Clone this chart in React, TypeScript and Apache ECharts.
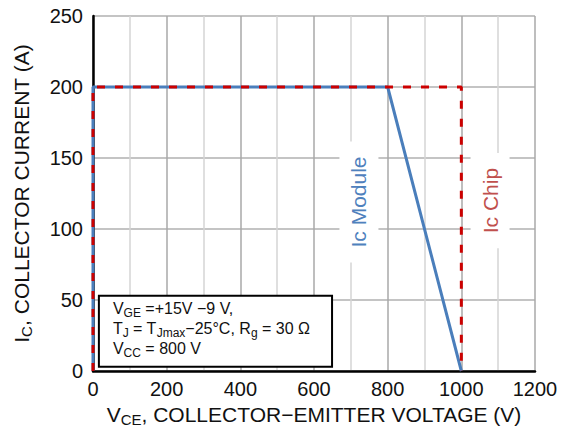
import React, { useEffect, useRef } from "react";
import * as echarts from "echarts";

const xTicksMax = 1200;
const yTicksMax = 250;
const moduleX = [0, 0, 800, 1000];
const moduleY = [0, 200, 200, 0];
const chipX = [0, 0, 1000, 1000];
const chipY = [0, 200, 200, 0];
const moduleLabel = "Ic Module";
const chipLabel = "Ic Chip";
const moduleLabelPos = [722, 119];
const chipLabelPos = [1078, 120];
const noteBoxData = [[16, 53], [649, 3]];
const noteLines = [
  "{n|V}{s|GE}{n| =+15V \u22129 V,}",
  "{n|T}{s|J}{n| = T}{s|Jmax}{n|\u221225\u00B0C, R}{s|g}{n| = 30 \u03A9}",
  "{n|V}{s|CC}{n| = 800 V}",
];

const FONT = "'Liberation Sans', Arial, Helvetica, sans-serif";
const BLUE = "#4a7ebb";
const RED = "#cc0000";

export default function App() {
  const ref = useRef<HTMLDivElement>(null);
  useEffect(() => {
    if (!ref.current) return;
    const chart = echarts.init(ref.current, null, { renderer: "svg" });
    const nameRich = {
      n: { fontSize: 21, fontFamily: FONT, color: "#111", lineHeight: 26 },
      s: { fontSize: 15, fontFamily: FONT, color: "#111", lineHeight: 12, verticalAlign: "bottom" },
    };
    chart.setOption({
      animation: false,
      backgroundColor: "#fff",
      grid: { left: 93, right: 35, top: 16, bottom: 62, containLabel: false },
      xAxis: {
        type: "value",
        min: 0,
        max: xTicksMax,
        interval: 200,
        name: "{n|V}{s|CE}{n|, COLLECTOR\u2212EMITTER VOLTAGE (V)}",
        nameLocation: "middle",
        nameGap: 29,
        nameTextStyle: { rich: nameRich },
        axisLine: { show: true, onZero: false, lineStyle: { color: "#000", width: 2.5 } },
        axisTick: { show: false },
        axisLabel: { color: "#111", fontSize: 20, fontFamily: FONT, margin: 8, formatter: (v: number) => String(v) },
        splitLine: { show: true, lineStyle: { color: "#a8a8a8", width: 1.5 } },
        minorTick: { show: false, splitNumber: 2 },
        minorSplitLine: { show: true, lineStyle: { color: "#d4d4d4", width: 1.5 } },
      },
      yAxis: {
        type: "value",
        min: 0,
        max: yTicksMax,
        interval: 50,
        name: "{n|I}{s|C}{n|, COLLECTOR CURRENT (A)}",
        nameLocation: "middle",
        nameGap: 59,
        nameRotate: 90,
        nameTextStyle: { rich: nameRich },
        axisLine: { show: true, onZero: false, lineStyle: { color: "#000", width: 2.5 } },
        axisTick: { show: false },
        axisLabel: { color: "#111", fontSize: 20, fontFamily: FONT, margin: 10, formatter: (v: number) => String(v) },
        splitLine: { show: true, lineStyle: { color: "#b0b0b0", width: 1.5 } },
      },
      series: [
        {
          type: "line",
          name: "Ic Module",
          data: moduleX.map((x, i) => [x, moduleY[i]]),
          showSymbol: false,
          clip: false,
          lineStyle: { color: BLUE, width: 3 },
          z: 3,
        },
        {
          type: "line",
          name: "Ic Chip",
          data: chipX.map((x, i) => [x, chipY[i]]),
          showSymbol: false,
          clip: false,
          lineStyle: { color: RED, width: 3, type: [8, 10] },
          z: 4,
        },
      ],
    });

    const p = (d: number[]) => chart.convertToPixel({ gridIndex: 0 }, d) as number[];
    const m = p(moduleLabelPos);
    const c = p(chipLabelPos);
    const b0 = p(noteBoxData[0]);
    const b1 = p(noteBoxData[1]);
    const noteRich = {
      n: { fontSize: 16, fontFamily: FONT, fill: "#111", lineHeight: 20 },
      s: { fontSize: 12, fontFamily: FONT, fill: "#111", lineHeight: 10, verticalAlign: "bottom" },
    };
    chart.setOption({
      graphic: [
        {
          type: "text",
          x: m[0],
          y: m[1],
          rotation: Math.PI / 2,
          z: 100,
          style: {
            text: moduleLabel,
            fill: "#4f81bd",
            fontSize: 21,
            fontFamily: FONT,
            align: "center",
            verticalAlign: "middle",
            textAlign: "center",
            textVerticalAlign: "middle",
            backgroundColor: "#fff",
            padding: [9, 15, 9, 15],
          },
        },
        {
          type: "text",
          x: c[0],
          y: c[1],
          rotation: Math.PI / 2,
          z: 100,
          style: {
            text: chipLabel,
            fill: "#c0504d",
            fontSize: 21,
            fontFamily: FONT,
            align: "center",
            verticalAlign: "middle",
            textAlign: "center",
            textVerticalAlign: "middle",
            backgroundColor: "#fff",
            padding: [9, 15, 9, 15],
          },
        },
        {
          type: "rect",
          z: 100,
          shape: { x: b0[0], y: b0[1], width: b1[0] - b0[0], height: b1[1] - b0[1] },
          style: { fill: "#fff", stroke: "#000", lineWidth: 2 },
        },
        {
          type: "text",
          z: 101,
          x: b0[0] + 14,
          y: b0[1] + 3,
          style: {
            text: noteLines.join("\n"),
            rich: noteRich,
            align: "left",
            verticalAlign: "top",
            textAlign: "left",
            textVerticalAlign: "top",
          },
        },
      ],
    });
    return () => chart.dispose();
  }, []);
  return <div ref={ref} style={{ position: "fixed", left: 0, top: 0, width: 570, height: 433 }} />;
}
